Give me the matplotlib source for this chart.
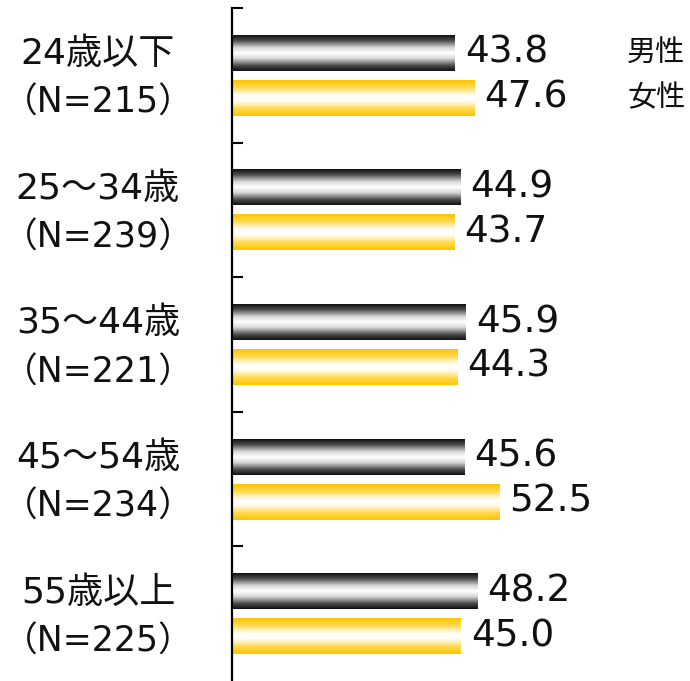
import numpy as np
import matplotlib
matplotlib.use("Agg")
import matplotlib.pyplot as plt
from matplotlib.colors import LinearSegmentedColormap
import matplotlib.transforms as mtransforms

plt.rcParams['font.family'] = ['DejaVu Sans', 'Noto Sans CJK JP']

# data
groups = ["24歳以下", "25～34歳", "35～44歳", "45～54歳", "55歳以上"]
counts = ["（N=215）", "（N=239）", "（N=221）", "（N=234）", "（N=225）"]
male = [43.8, 44.9, 45.9, 45.6, 48.2]
female = [47.6, 43.7, 44.3, 52.5, 45.0]
legend_labels = ["男性", "女性"]

gray_cmap = LinearSegmentedColormap.from_list(
    "gray_tube", [(0, "#101010"), (0.15, "#4a4a4a"), (0.35, "#d8d8d8"), (0.5, "#ffffff"),
                  (0.65, "#d8d8d8"), (0.85, "#4a4a4a"), (1, "#101010")])
gold_cmap = LinearSegmentedColormap.from_list(
    "gold_tube", [(0, "#ffc400"), (0.2, "#ffd94d"), (0.4, "#fffbea"), (0.5, "#ffffff"),
                  (0.6, "#fffbea"), (0.8, "#ffd94d"), (1, "#ffc400")])
grad = np.linspace(0, 1, 256).reshape(-1, 1)

fig = plt.figure(figsize=(6.9, 6.81), dpi=100)
ax = fig.add_axes([232 / 690, 0, 1 - 232 / 690, 1 - 8 / 681])

n = len(groups)
centers = np.arange(n) + 0.5
off = 0.167
h = 0.267

bars_m = ax.barh(centers - off, male, height=h, color="none", edgecolor="none")
bars_f = ax.barh(centers + off, female, height=h, color="none", edgecolor="none")

for bars, cmap in ((bars_m, gray_cmap), (bars_f, gold_cmap)):
    for bar in bars:
        x0, y0 = bar.get_x(), bar.get_y()
        w, hh = bar.get_width(), bar.get_height()
        im = ax.imshow(grad, cmap=cmap, aspect="auto", origin="lower",
                       extent=[x0, x0 + w, y0, y0 + hh], zorder=2)
        im.set_clip_path(bar)

for bars, vals in ((bars_m, male), (bars_f, female)):
    for bar, v in zip(bars, vals):
        ax.text(v + 2.0, bar.get_y() + bar.get_height() / 2, f"{v:.1f}",
                va="center", ha="left", fontsize=27, color="#111111")

ax.set_xlim(0, 90)
ax.set_ylim(n, 0)

trans = mtransforms.blended_transform_factory(fig.transFigure, ax.transData)
for i in range(n):
    ax.text(0.142, centers[i] - off + 0.01, groups[i], transform=trans, ha="center",
            va="center", fontsize=26, color="#111111", clip_on=False)
    ax.text(0.142, centers[i] + off + 0.04, counts[i], transform=trans, ha="center",
            va="center", fontsize=25, color="#111111", clip_on=False)

ax.text(0.951, centers[0] - off, legend_labels[0], transform=trans, ha="center",
        va="center", fontsize=21, color="#111111", clip_on=False)
ax.text(0.951, centers[0] + off, legend_labels[1], transform=trans, ha="center",
        va="center", fontsize=21, color="#111111", clip_on=False)

for s in ("top", "right", "bottom"):
    ax.spines[s].set_visible(False)
ax.spines["left"].set_linewidth(1.6)
ax.set_yticks(np.arange(n))
ax.set_yticklabels([])
ax.tick_params(axis="y", direction="in", length=8, width=1.5)
ax.set_xticks([])

fig.savefig("out.png", dpi=100)
